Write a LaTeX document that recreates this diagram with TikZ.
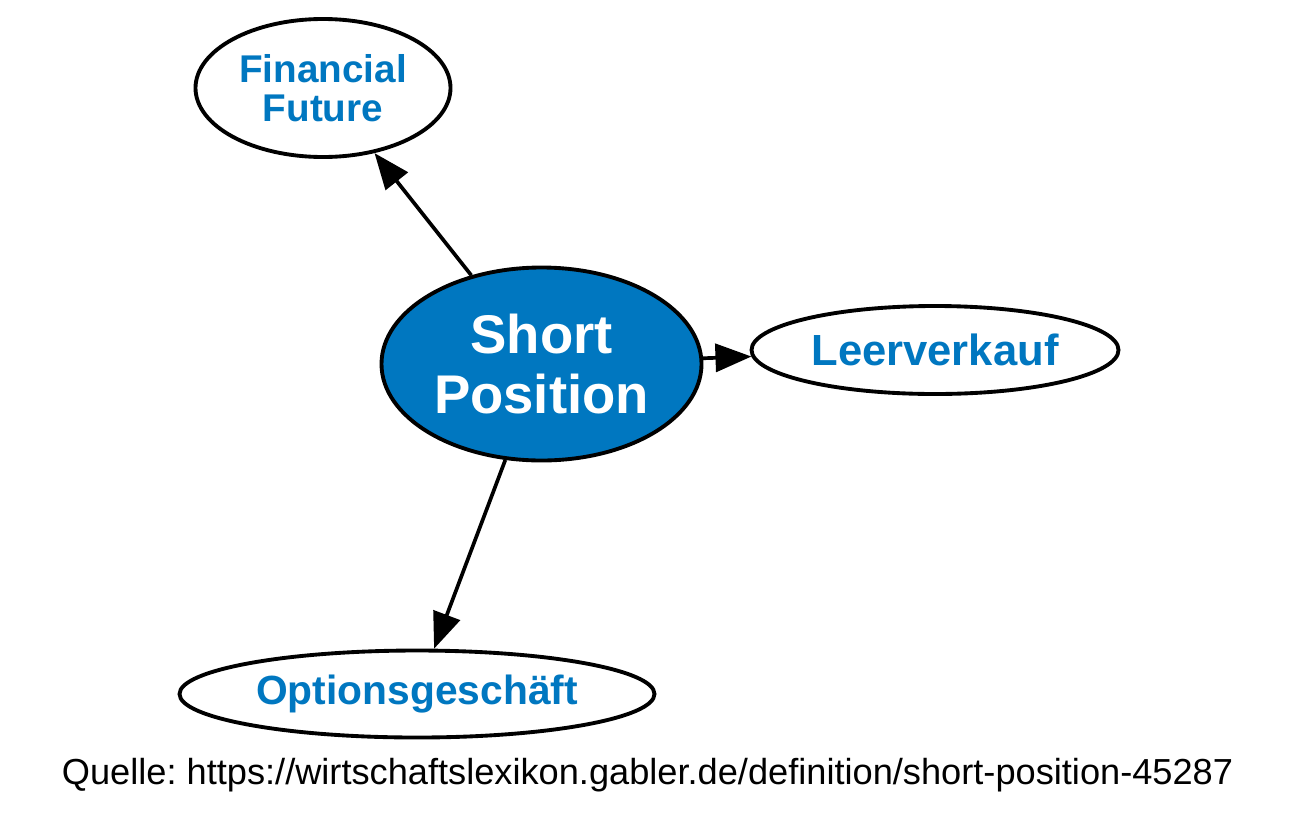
\documentclass[tikz,border=0pt]{standalone}
\usepackage{xcolor}
\usepackage{fontspec}
\setmainfont{Liberation Sans}
\usepackage{tikz}
\usetikzlibrary{arrows.meta, positioning, shapes.geometric}
\definecolor{gablerblue}{HTML}{0077C0}
\frenchspacing

\begin{document}
\begin{tikzpicture}[x=1cm, y=1cm]
		\tikzset{
			topic/.style={ellipse, draw=black, line width=1.1pt, fill=gablerblue, text=white, align=center, inner sep=0pt, font=\bfseries\fontsize{15.5}{16.8}\selectfont},
			related/.style={ellipse, draw=black, line width=1.1pt, fill=white, text=gablerblue, align=center, inner sep=0pt, font=\bfseries\fontsize{11.6}{11.4}\selectfont},
			link/.style={-{Triangle[length=0.36cm, width=0.28cm]}, line width=1.05pt}
		}
		\useasboundingbox (0,0) rectangle (13,-8.37);
		\node[topic, minimum width=3.2cm, minimum height=1.93cm] (sp) at (5.415,-3.64) {Short\\Position};
		\node[related, minimum width=2.55cm, minimum height=1.38cm, font=\bfseries\fontsize{11}{11.2}\selectfont] (ff) at (3.23,-0.88) {Financial\\Future};
		\node[related, minimum width=3.67cm, minimum height=0.88cm, font=\bfseries\fontsize{12.4}{12.4}\selectfont] (lv) at (9.35,-3.50) {Leerverkauf};
		\node[related, minimum width=4.75cm, minimum height=0.87cm] (og) at (4.17,-6.94) {Optionsgeschäft};
		
		\draw[link] (sp) -- (ff);
		\draw[link] (sp) -- (lv);
		\draw[link] (sp) -- (og);
		
		\node[font=\fontsize{10.3}{12}\selectfont] (src) at (6.475,-7.75) {Quelle: https://wirtschaftslexikon.gabler.de/definition/short-position-45287};
	\end{tikzpicture}
\end{document}
